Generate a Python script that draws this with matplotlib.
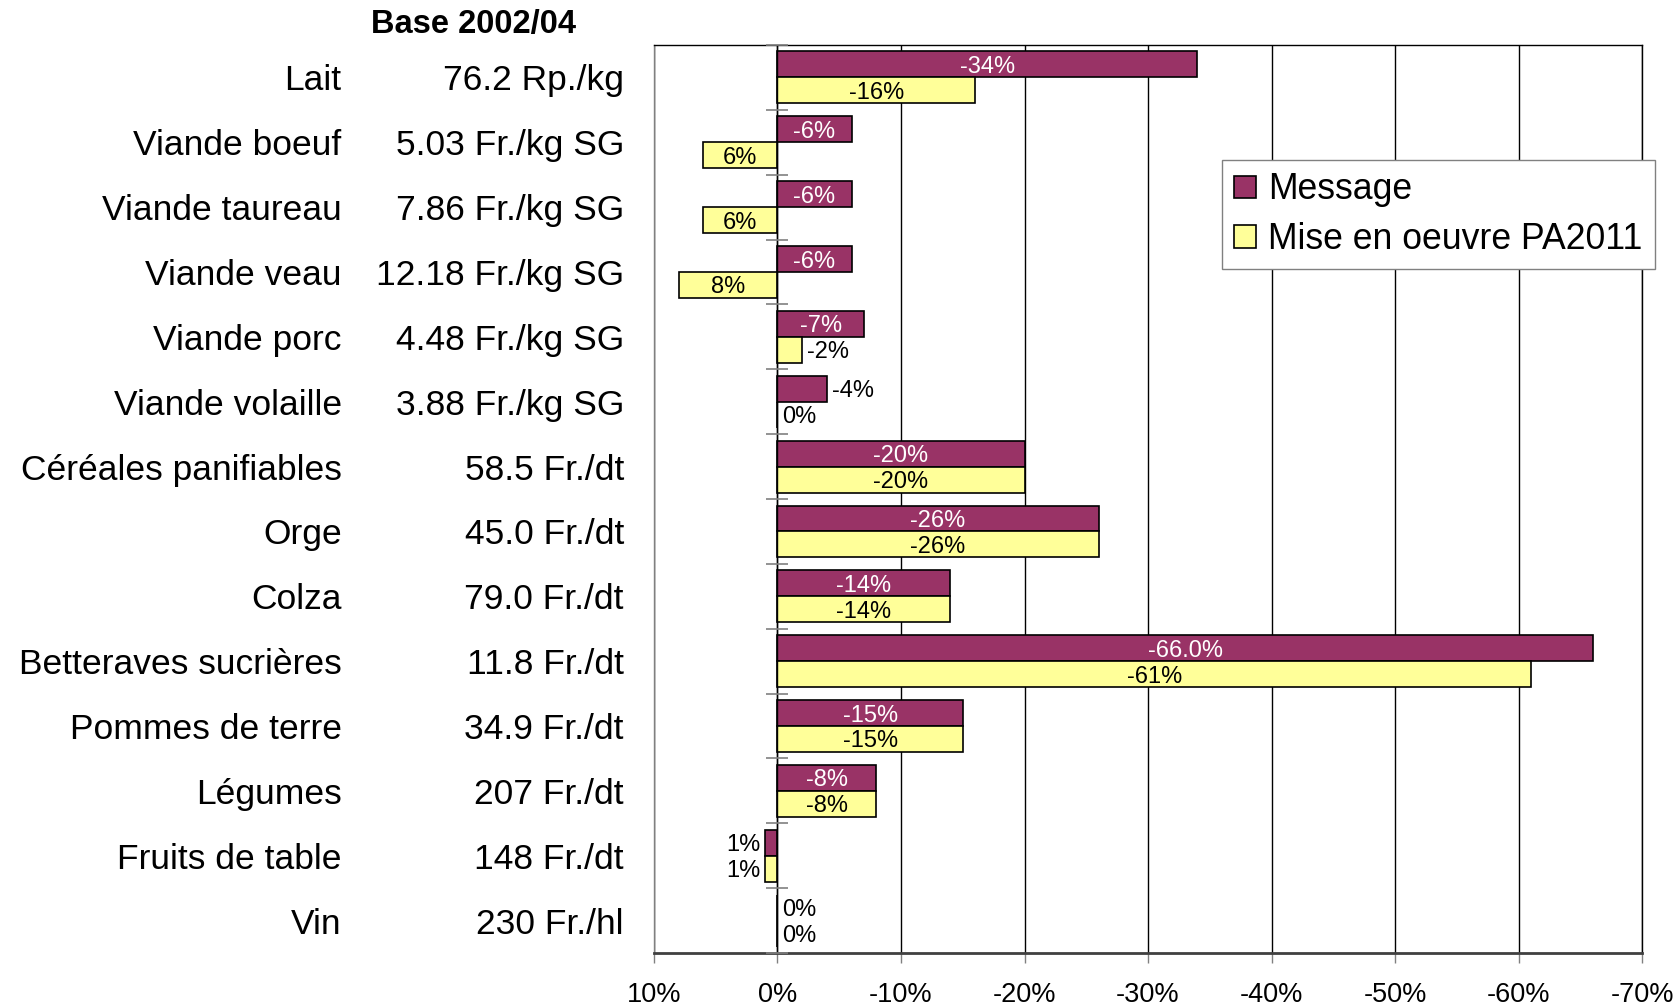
import matplotlib
matplotlib.use("Agg")
import matplotlib.pyplot as plt
import matplotlib.transforms as mtransforms
import numpy as np

plt.rcParams['font.family'] = ['Liberation Sans', 'DejaVu Sans']

# products, reference prices (base 2002/04) and price changes in %
products = ['Lait', 'Viande boeuf', 'Viande taureau', 'Viande veau', 'Viande porc',
            'Viande volaille', 'Céréales panifiables', 'Orge', 'Colza',
            'Betteraves sucrières', 'Pommes de terre', 'Légumes', 'Fruits de table', 'Vin']
prices = ['76.2 Rp./kg', '5.03 Fr./kg SG', '7.86 Fr./kg SG', '12.18 Fr./kg SG',
          '4.48 Fr./kg SG', '3.88 Fr./kg SG', '58.5 Fr./dt', '45.0 Fr./dt', '79.0 Fr./dt',
          '11.8 Fr./dt', '34.9 Fr./dt', '207 Fr./dt', '148 Fr./dt', '230 Fr./hl']
message = [-34, -6, -6, -6, -7, -4, -20, -26, -14, -66.0, -15, -8, 1, 0]
message_dec = [0, 0, 0, 0, 0, 0, 0, 0, 0, 1, 0, 0, 0, 0]
pa2011 = [-16, 6, 6, 8, -2, 0, -20, -26, -14, -61, -15, -8, 1, 0]
xticks = [10, 0, -10, -20, -30, -40, -50, -60, -70]

MSG_COLOR = '#993366'
PA_COLOR = '#ffff99'

fig = plt.figure(figsize=(16.79, 10.07), dpi=100)
ax = fig.add_axes([0.3895, 0.0536, 0.5885, 0.9017])

n = len(products)
y = np.arange(n)
h = 0.4
ax.barh(y - h / 2, message, height=h, color=MSG_COLOR, edgecolor='black',
        linewidth=1.2, label='Message', zorder=3)
ax.barh(y + h / 2, pa2011, height=h, color=PA_COLOR, edgecolor='black',
        linewidth=1.2, label='Mise en oeuvre PA2011', zorder=3)

ax.set_xlim(10, -70)
ax.set_ylim(n - 0.5, -0.5)
ax.set_xticks(xticks)
ax.set_xticklabels([f'{v}%' for v in xticks], fontsize=19.5)
ax.tick_params(axis='x', length=7, width=1, color='#808080', pad=14)
ax.set_yticks([])
ax.grid(axis='x', color='black', linewidth=1.0, zorder=1)
ax.axvline(0, color='black', linewidth=1.0, zorder=4)

# small category separators on the zero line
bounds = np.arange(n + 1) - 0.5
ax.plot(np.zeros(n + 1), bounds, ls='', marker='_', ms=16, mew=1.2,
        color='#808080', clip_on=False, zorder=5)

for s in ax.spines.values():
    s.set_color('black')
    s.set_linewidth(1.0)
ax.spines['left'].set_color('#808080')
ax.spines['bottom'].set_color('#404040')
ax.spines['bottom'].set_linewidth(2.0)


def put_label(v, yy, text, inside_color):
    if abs(v) >= 5:
        ax.text(v / 2, yy, text, ha='center', va='center_baseline', fontsize=17,
                color=inside_color, zorder=6)
    elif v > 0:
        ax.text(v + 0.35, yy, text, ha='right', va='center_baseline', fontsize=17,
                zorder=6)
    else:
        ax.text(v - 0.4, yy, text, ha='left', va='center_baseline', fontsize=17,
                zorder=6)


for i in range(n):
    put_label(message[i], y[i] - h / 2, f'{message[i]:.{message_dec[i]}f}%', 'white')
    put_label(pa2011[i], y[i] + h / 2, f'{pa2011[i]:.0f}%', 'black')

# category names and reference prices left of the plot
tr = mtransforms.blended_transform_factory(fig.transFigure, ax.transData)
for i in range(n):
    ax.text(0.2035, y[i], products[i], transform=tr, ha='right',
            va='center_baseline', fontsize=25.5, clip_on=False)
    ax.text(0.3716, y[i], prices[i], transform=tr, ha='right',
            va='center_baseline', fontsize=25.5, clip_on=False)
fig.text(0.2823, 0.976, 'Base 2002/04', ha='center', va='center',
         fontsize=23.5, fontweight='bold')

leg = ax.legend(loc='upper left', bbox_to_anchor=(1222 / 1679, 1 - 160 / 1007),
                bbox_transform=fig.transFigure, borderaxespad=0, fontsize=25.7,
                fancybox=False, edgecolor='#808080', framealpha=1,
                handlelength=0.6, handleheight=0.6, handletextpad=0.35,
                labelspacing=0.4, borderpad=0.35)
leg.get_frame().set_linewidth(1.0)
leg.set_zorder(10)

fig.savefig('out.png', dpi=100)
